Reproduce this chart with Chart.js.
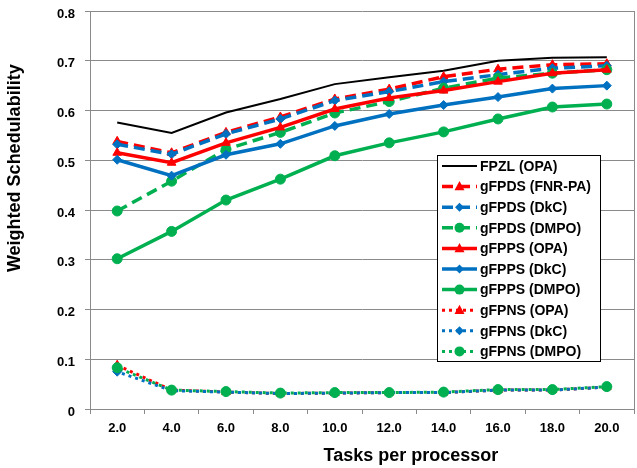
<!DOCTYPE html>
<html>
<head>
<meta charset="utf-8">
<script src="https://cdn.jsdelivr.net/npm/chart.js@4.4.1/dist/chart.umd.min.js"></script>
<style>
  body { margin: 0; background: #fff; }
  canvas { display: block; }
</style>
</head>
<body>
<canvas id="schedChart" width="637" height="468"></canvas>
<script>
// x categories (tasks per processor) and y tick labels
const categories = ['2.0', '4.0', '6.0', '8.0', '10.0', '12.0', '14.0', '16.0', '18.0', '20.0'];
const yTickLabels = ['0', '0.1', '0.2', '0.3', '0.4', '0.5', '0.6', '0.7', '0.8'];

// series values
const fpzlOpa    = [0.576, 0.555, 0.596, 0.623, 0.653, 0.667, 0.680, 0.700, 0.706, 0.707];
const gfpdsFnrPa = [0.538, 0.515, 0.556, 0.587, 0.623, 0.643, 0.668, 0.683, 0.692, 0.694];
const gfpdsDkc   = [0.532, 0.512, 0.553, 0.583, 0.620, 0.638, 0.658, 0.672, 0.685, 0.690];
const gfpdsDmpo  = [0.398, 0.458, 0.522, 0.556, 0.595, 0.618, 0.645, 0.665, 0.675, 0.682];
const gfppsOpa   = [0.515, 0.495, 0.535, 0.566, 0.603, 0.625, 0.640, 0.658, 0.675, 0.682];
const gfppsDkc   = [0.501, 0.469, 0.511, 0.533, 0.569, 0.593, 0.611, 0.627, 0.644, 0.650];
const gfppsDmpo  = [0.302, 0.357, 0.420, 0.462, 0.509, 0.535, 0.557, 0.583, 0.607, 0.613];
const gfpnsOpa   = [0.088, 0.038, 0.034, 0.031, 0.032, 0.033, 0.033, 0.038, 0.038, 0.044];
const gfpnsDkc   = [0.075, 0.037, 0.034, 0.031, 0.032, 0.033, 0.033, 0.038, 0.038, 0.044];
const gfpnsDmpo  = [0.083, 0.038, 0.035, 0.032, 0.033, 0.033, 0.034, 0.039, 0.039, 0.045];

const RED = '#ff0000';
const BLUE = '#0070c0';
const GREEN = '#00b050';
const FONT = "'Liberation Sans', Arial, sans-serif";

function series(label, data, color, style, dash, width, radius) {
  return {
    label: label,
    data: data,
    borderColor: color,
    backgroundColor: color,
    borderWidth: width,
    borderDash: dash,
    borderCapStyle: 'butt',
    pointStyle: style || 'circle',
    pointRadius: style ? radius : 0,
    pointBackgroundColor: color,
    pointBorderColor: color,
    pointBorderWidth: 1,
    tension: 0,
    fill: false,
  };
}

const datasets = [
  series('FPZL (OPA)', fpzlOpa, '#000000', null, [], 2, 0),
  series('gFPDS (FNR-PA)', gfpdsFnrPa, RED, 'triangle', [11, 6], 3.5, 5),
  series('gFPDS (DkC)', gfpdsDkc, BLUE, 'rectRot', [11, 6], 3.5, 4.5),
  series('gFPDS (DMPO)', gfpdsDmpo, GREEN, 'circle', [11, 6], 3.5, 5),
  series('gFPPS (OPA)', gfppsOpa, RED, 'triangle', [], 3.5, 5),
  series('gFPPS (DkC)', gfppsDkc, BLUE, 'rectRot', [], 3.5, 4.5),
  series('gFPPS (DMPO)', gfppsDmpo, GREEN, 'circle', [], 3.5, 5),
  series('gFPNS (OPA)', gfpnsOpa, RED, 'triangle', [3, 4], 3, 5),
  series('gFPNS (DkC)', gfpnsDkc, BLUE, 'rectRot', [3, 4], 3, 4.5),
  series('gFPNS (DMPO)', gfpnsDmpo, GREEN, 'circle', [3, 4], 3, 5),
];
// Excel draws the later series on top
datasets.forEach((ds, i) => { ds.order = -i; });
datasets[8].borderDashOffset = 2;
datasets[9].borderDashOffset = 4;

function drawMarker(ctx, style, x, y, r, color) {
  ctx.save();
  ctx.fillStyle = color;
  ctx.beginPath();
  if (style === 'triangle') {
    ctx.moveTo(x, y - r * 1.1);
    ctx.lineTo(x + r, y + r * 0.75);
    ctx.lineTo(x - r, y + r * 0.75);
    ctx.closePath();
  } else if (style === 'rectRot') {
    ctx.moveTo(x, y - r);
    ctx.lineTo(x + r, y);
    ctx.lineTo(x, y + r);
    ctx.lineTo(x - r, y);
    ctx.closePath();
  } else {
    ctx.arc(x, y, r, 0, Math.PI * 2);
  }
  ctx.fill();
  ctx.restore();
}

// frame, axis titles and the boxed legend inside the plot
const decorPlugin = {
  id: 'decor',
  beforeDatasetsDraw(chart) {
    const { ctx, chartArea: a } = chart;
    ctx.save();
    ctx.strokeStyle = '#8a8a8a';
    ctx.lineWidth = 1;
    ctx.beginPath();
    ctx.moveTo(a.right + 0.5, a.top);
    ctx.lineTo(a.right + 0.5, a.bottom);
    ctx.stroke();
    ctx.restore();
  },
  afterDraw(chart) {
    const { ctx, chartArea: a } = chart;
    ctx.save();
    ctx.fillStyle = '#000';
    ctx.font = 'bold 18px ' + FONT;
    ctx.textAlign = 'center';
    ctx.textBaseline = 'middle';
    ctx.fillText('Tasks per processor', a.left + a.width * 0.59, 456);
    ctx.translate(15, a.top + a.height * 0.395);
    ctx.rotate(-Math.PI / 2);
    ctx.fillText('Weighted Schedulability', 0, 0);
    ctx.restore();

    // legend box
    const boxW = 163, boxH = 206;
    const boxX = a.right - 34 - boxW;
    const boxY = a.top + 144;
    ctx.save();
    ctx.fillStyle = '#fff';
    ctx.fillRect(boxX, boxY, boxW, boxH);
    ctx.strokeStyle = '#000';
    ctx.lineWidth = 1;
    ctx.strokeRect(Math.round(boxX) + 0.5, Math.round(boxY) + 0.5, boxW, boxH);
    ctx.font = 'bold 14px ' + FONT;
    ctx.textBaseline = 'middle';
    ctx.textAlign = 'left';
    chart.data.datasets.forEach((ds, i) => {
      const y = boxY + 11 + i * 20.6;
      const x0 = boxX + 5, x1 = boxX + 40;
      ctx.save();
      ctx.strokeStyle = ds.borderColor;
      ctx.lineWidth = ds.borderWidth;
      ctx.setLineDash(ds.borderDash || []);
      ctx.beginPath();
      ctx.moveTo(x0, y);
      ctx.lineTo(x1, y);
      ctx.stroke();
      ctx.restore();
      if (ds.pointRadius > 0) {
        drawMarker(ctx, ds.pointStyle, (x0 + x1) / 2, y, ds.pointRadius, ds.borderColor);
      }
      ctx.fillStyle = '#000';
      ctx.fillText(ds.label, boxX + 43, y + 1);
    });
    ctx.restore();
  },
};

const ctx = document.getElementById('schedChart').getContext('2d');
new Chart(ctx, {
  type: 'line',
  data: { labels: categories, datasets: datasets },
  plugins: [decorPlugin],
  options: {
    responsive: false,
    animation: false,
    layout: { autoPadding: false, padding: { top: 11, right: 3, left: 0, bottom: 0 } },
    plugins: {
      legend: { display: false },
      tooltip: { enabled: false },
    },
    scales: {
      x: {
        offset: true,
        grid: {
          offset: true,
          drawOnChartArea: false,
          color: '#8a8a8a',
          tickLength: 5,
        },
        border: { color: '#8a8a8a' },
        ticks: {
          color: '#000',
          padding: 7,
          maxRotation: 0,
          font: { family: FONT, size: 13, weight: 'bold' },
        },
        afterFit(scale) {
          scale.height = 59;
          scale.paddingLeft = 0;
          scale.paddingRight = 0;
        },
      },
      y: {
        min: 0,
        max: 0.8,
        grid: { color: '#8a8a8a', tickLength: 5 },
        border: { color: '#8a8a8a' },
        ticks: {
          stepSize: 0.1,
          color: '#000',
          padding: 10,
          labelOffset: 3,
          font: { family: FONT, size: 13, weight: 'bold' },
          callback: (value, index) => yTickLabels[index],
        },
        afterFit(scale) {
          scale.width = 90;
          scale.paddingTop = 0;
          scale.paddingBottom = 0;
        },
      },
    },
  },
});
</script>
</body>
</html>
